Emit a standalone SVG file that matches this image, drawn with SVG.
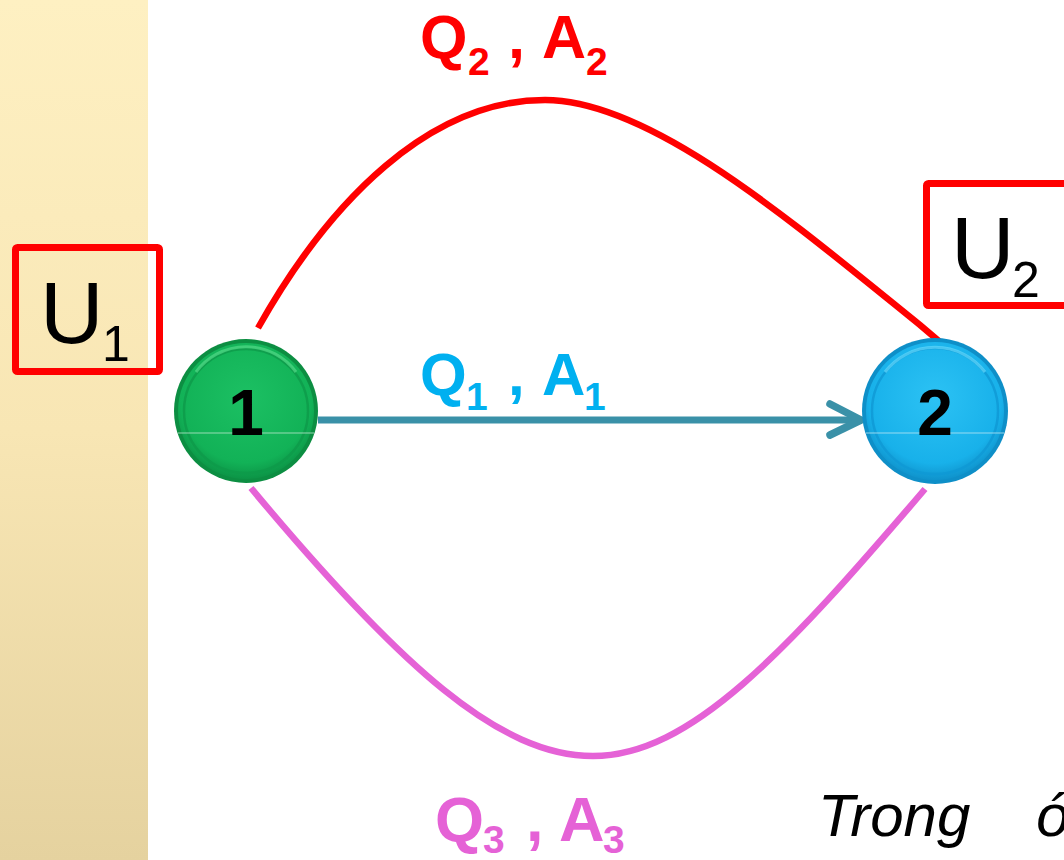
<svg xmlns="http://www.w3.org/2000/svg" width="1064" height="860" viewBox="0 0 1064 860">
<defs>
<linearGradient id="band" x1="0" y1="0" x2="0" y2="1">
<stop offset="0" stop-color="#FEF0C2"/>
<stop offset="0.5" stop-color="#F8E6B4"/>
<stop offset="1" stop-color="#E5D29F"/>
</linearGradient>
<radialGradient id="g1" cx="0.5" cy="0.4" r="0.6">
<stop offset="0" stop-color="#1CC063"/>
<stop offset="0.8" stop-color="#12B257"/>
<stop offset="1" stop-color="#0C9446"/>
</radialGradient>
<radialGradient id="g2" cx="0.5" cy="0.4" r="0.6">
<stop offset="0" stop-color="#2CC2F4"/>
<stop offset="0.8" stop-color="#18B1EA"/>
<stop offset="1" stop-color="#0F93CC"/>
</radialGradient>
<style>
.box{fill:none;stroke:#FF0000;stroke-width:7}
.u{font-family:"Liberation Sans",Arial,sans-serif;fill:#000}
.lbl{font-family:"Liberation Sans",Arial,sans-serif;font-weight:bold}
.num{font-family:"Liberation Sans",Arial,sans-serif;font-weight:bold;font-size:64px;fill:#000;text-anchor:middle}
.edge{fill:none;stroke-width:6.5;}
</style>
</defs>
<rect x="0" y="0" width="1064" height="860" fill="#FFFFFF"/>
<rect x="0" y="0" width="148" height="860" fill="url(#band)"/>

<g id="connectors">
<path class="edge" stroke="#FF0000" d="M258,328 C330,200 430,100 545,100 C650,100 790,220 920,325 L940,342"/>
<path class="edge" stroke="#E562D6" d="M251,488 C401,668 500,756 593,756 C690,756 785,653 925,489"/>
<line x1="318" y1="420" x2="858" y2="420" stroke="#3A91A8" stroke-width="7"/>
<polyline points="830,404 861,420 830,435" fill="none" stroke="#3A91A8" stroke-width="7.5" stroke-linecap="round" stroke-linejoin="round"/>
</g>

<g id="label-q2">
<text class="lbl" fill="#FF0000" font-size="61"><tspan x="420" y="58">Q</tspan><tspan x="468" y="75" font-size="39">2</tspan><tspan x="508" y="58">,</tspan><tspan x="542" y="58">A</tspan><tspan x="586" y="75" font-size="39">2</tspan></text>
</g>
<g id="label-q1">
<text class="lbl" fill="#00B0F0" font-size="60"><tspan x="420" y="395">Q</tspan><tspan x="466" y="410" font-size="39">1</tspan><tspan x="508" y="395">,</tspan><tspan x="542" y="395">A</tspan><tspan x="584" y="410" font-size="39">1</tspan></text>
</g>
<g id="label-q3">
<text class="lbl" fill="#E562D6" font-size="63"><tspan x="435" y="841">Q</tspan><tspan x="483" y="853" font-size="39">3</tspan><tspan x="526" y="841">,</tspan><tspan x="559" y="841">A</tspan><tspan x="603" y="853" font-size="39">3</tspan></text>
</g>

<g id="u1">
<rect class="box" x="15.5" y="247.5" width="144" height="124" rx="2"/>
<text class="u" font-size="88"><tspan x="40" y="343">U</tspan><tspan x="102" y="361" font-size="50">1</tspan></text>
</g>
<g id="u2">
<rect class="box" x="926.5" y="183.5" width="150" height="122" rx="2"/>
<text class="u" font-size="88"><tspan x="951" y="278">U</tspan><tspan x="1012" y="297" font-size="50">2</tspan></text>
</g>

<g id="node1">
<circle cx="246" cy="411" r="72" fill="#0C8E42"/>
<circle cx="246" cy="411" r="68" fill="url(#g1)"/>
<circle cx="246" cy="411" r="62" fill="none" stroke="#0E9A4A" stroke-width="2.5" opacity="0.8"/>
<path d="M196,372 A62,62 0 0 1 296,372" fill="none" stroke="#5DE08F" stroke-width="3" opacity="0.6"/>
<line x1="178" y1="433" x2="314" y2="433" stroke="#B8E6CC" stroke-width="1" opacity="0.8"/>
<text class="num" x="246" y="435">1</text>
</g>
<g id="node2">
<circle cx="935" cy="411" r="73" fill="#0E8FC8"/>
<circle cx="935" cy="411" r="69" fill="url(#g2)"/>
<circle cx="935" cy="411" r="63" fill="none" stroke="#0F99D4" stroke-width="2.5" opacity="0.8"/>
<path d="M885,372 A63,63 0 0 1 985,372" fill="none" stroke="#6FE0FF" stroke-width="3" opacity="0.6"/>
<line x1="866" y1="433" x2="1004" y2="433" stroke="#B8E6F4" stroke-width="1" opacity="0.8"/>
<text class="num" x="935" y="435">2</text>
</g>

<g id="note">
<text class="u" font-size="60" font-style="italic" x="818" y="836">Trong</text>
<text class="u" font-size="60" font-style="italic" x="1036" y="836">ó</text>
</g>
</svg>
